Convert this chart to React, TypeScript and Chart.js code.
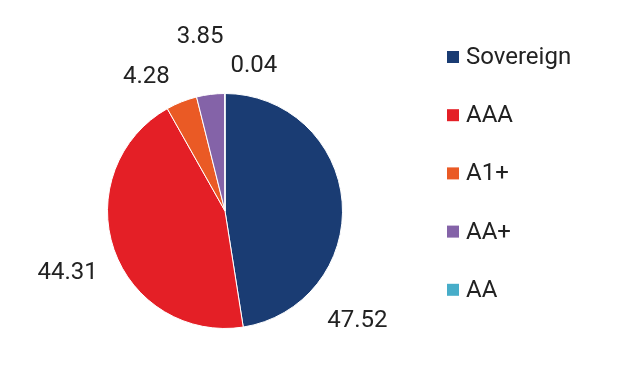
import React, { useEffect, useRef } from "react";
import { Chart, registerables } from "chart.js";

Chart.register(...registerables);

const categories = ["Sovereign", "AAA", "A1+", "AA+", "AA"];
const values = [47.52, 44.31, 4.28, 3.85, 0.04];
const valueLabels = ["47.52", "44.31", "4.28", "3.85", "0.04"];
const colors = ["#1a3c73", "#e41f26", "#ea5a25", "#8463a8", "#47adc9"];

// label placement: angle clockwise from top (deg), distance as multiple of radius
const labelAngles = [129.6, 248.6, 329.5, 351.9, 11.2];
const labelDistances = [1.463, 1.438, 1.319, 1.498, 1.262];

const FONT = "Roboto, 'Noto Sans', sans-serif";

const labelPlugin = {
  id: "valueLabels",
  afterDraw(chart: any) {
    const ctx = chart.ctx;
    const meta = chart.getDatasetMeta(0);
    ctx.save();
    ctx.font = `24px ${FONT}`;
    ctx.fillStyle = "#222222";
    ctx.textAlign = "center";
    ctx.textBaseline = "middle";
    meta.data.forEach((arc: any, i: number) => {
      const { x, y, outerRadius } = arc.getProps(["x", "y", "outerRadius"], true);
      const a = (labelAngles[i] * Math.PI) / 180;
      const d = outerRadius * labelDistances[i];
      ctx.fillText(valueLabels[i], x + Math.sin(a) * d, y - Math.cos(a) * d);
    });
    ctx.restore();
  },
};

const legendPlugin = {
  id: "customLegend",
  afterDraw(chart: any) {
    const ctx = chart.ctx;
    ctx.save();
    ctx.font = `24px ${FONT}`;
    ctx.textBaseline = "middle";
    ctx.textAlign = "left";
    const x0 = 447;
    const y0 = 57;
    const step = 58.2;
    categories.forEach((c, i) => {
      const cy = y0 + i * step;
      ctx.fillStyle = colors[i];
      ctx.fillRect(x0, cy - 6, 12, 12);
      ctx.fillStyle = "#222222";
      ctx.fillText(c, x0 + 19, cy + 1);
    });
    ctx.restore();
  },
};

export default function App() {
  const ref = useRef<HTMLCanvasElement>(null);
  useEffect(() => {
    document.body.style.margin = "0";
    const chart = new Chart(ref.current!, {
      type: "pie",
      data: {
        labels: categories,
        datasets: [
          {
            data: values,
            backgroundColor: colors,
            borderColor: "#ffffff",
            borderWidth: 1,
          },
        ],
      },
      options: {
        animation: false,
        responsive: false,
        maintainAspectRatio: false,
        layout: { padding: { top: 93, bottom: 54, left: 107, right: 292 } },
        plugins: {
          legend: { display: false },
          tooltip: { enabled: false },
        },
      },
      plugins: [labelPlugin, legendPlugin],
    });
    return () => chart.destroy();
  }, []);
  return (
    <div style={{ width: 635, height: 383, background: "#fff" }}>
      <canvas ref={ref} width={635} height={383} />
    </div>
  );
}
